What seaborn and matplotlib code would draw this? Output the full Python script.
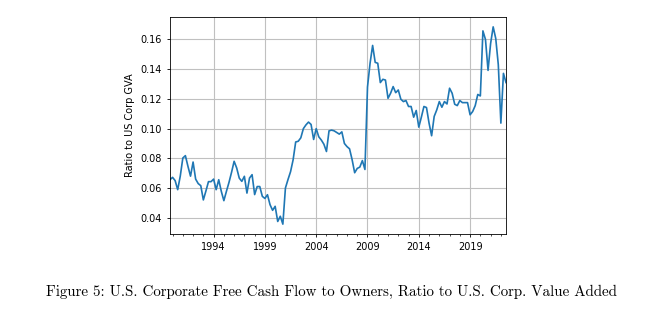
import numpy as np
import pandas as pd
import matplotlib
matplotlib.use("Agg")
import matplotlib.pyplot as plt
import seaborn as sns
from matplotlib.ticker import MultipleLocator, FixedLocator

# Quarterly series, 1989Q4 .. 2022Q3
start_year = 1989.75
ratio = [
    0.0656, 0.0672, 0.0650, 0.0589, 0.0680, 0.0802, 0.0818, 0.0746, 0.0680, 0.0775,
    0.0660, 0.0630, 0.0616, 0.0520, 0.0580, 0.0643, 0.0643, 0.0660, 0.0589, 0.0656,
    0.0578, 0.0515, 0.0578, 0.0638, 0.0706, 0.0780, 0.0735, 0.0667, 0.0645, 0.0679,
    0.0566, 0.0667, 0.0690, 0.0556, 0.0610, 0.0610, 0.0544, 0.0530, 0.0555, 0.0488,
    0.0450, 0.0477, 0.0375, 0.0410, 0.0357, 0.0600, 0.0657, 0.0710, 0.0790, 0.0910,
    0.0915, 0.0938, 0.1000, 0.1025, 0.1044, 0.1028, 0.0927,
    # 2004.0 ..
    0.1000, 0.0945, 0.0923, 0.0895, 0.0846, 0.0985, 0.0990, 0.0985, 0.0974, 0.0963,
    0.0978, 0.0900, 0.0879, 0.0864, 0.0791, 0.0703, 0.0732, 0.0741, 0.0785, 0.0725,
    # 2009.0 ..
    0.1280, 0.1440, 0.1560, 0.1446, 0.1440, 0.1310, 0.1332, 0.1327, 0.1204, 0.1238,
    0.1283, 0.1242, 0.1260, 0.1198, 0.1182, 0.1189, 0.1149, 0.1149, 0.1077, 0.1122,
    0.1010, 0.1077, 0.1149, 0.1142, 0.1037, 0.0952, 0.1082, 0.1126, 0.1182, 0.1144,
    0.1182, 0.1166, 0.1272, 0.1238, 0.1164, 0.1155, 0.1189, 0.1175, 0.1175, 0.1175,
    # 2019.0 ..
    0.1093, 0.1115, 0.1155, 0.1230, 0.1220, 0.1658, 0.1600, 0.1392, 0.1573, 0.1685,
    0.1607, 0.1430, 0.1037, 0.1372, 0.1310,
]
year_ticks = [1994, 1999, 2004, 2009, 2014, 2019]
ylabel = "Ratio to US Corp GVA"
caption = ("Figure 5: U.S. Corporate Free Cash Flow to Owners, "
           "Ratio to U.S. Corp. Value Added")

t = start_year + np.arange(len(ratio)) / 4.0
df = pd.DataFrame({"t": t, "ratio": ratio})

fig = plt.figure(figsize=(6.5, 3.24), dpi=100)
ax = fig.add_axes([170 / 650, 1 - 234 / 324, 336 / 650, 217 / 324])

sns.lineplot(data=df, x="t", y="ratio", ax=ax, color="#1f77b4", linewidth=1.2)

ax.set_xlim(t[0], t[-1])
ax.margins(y=0.05)
ax.xaxis.set_major_locator(FixedLocator(year_ticks))
ax.xaxis.set_minor_locator(MultipleLocator(1))
ax.set_xticklabels([str(y) for y in year_ticks])
ax.yaxis.set_major_locator(MultipleLocator(0.02))
ax.grid(True, which="major", color="#c0c0c0", linewidth=0.8)
ax.set_axisbelow(True)
ax.tick_params(axis="both", which="major", labelsize=7, length=2.5, width=0.6)
ax.tick_params(axis="x", which="minor", length=1.5, width=0.5)
ax.set_xlabel("")
ax.set_ylabel(ylabel, fontsize=7)
for s in ax.spines.values():
    s.set_linewidth(0.6)

fig.text(331 / 650, 1 - 292 / 324, caption, ha="center", va="center",
         fontsize=10.8, family=["cmr10", "DejaVu Serif"])

fig.savefig("out.png", dpi=100)
